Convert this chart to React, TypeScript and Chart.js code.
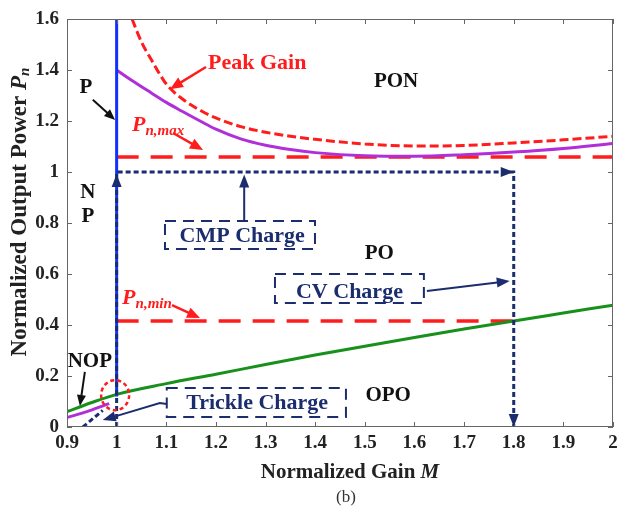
import React, { useEffect, useRef } from "react";
import { Chart, registerables } from "chart.js";
Chart.register(...registerables);

// ---- axes ----
const xTickValues = [0.9, 1.0, 1.1, 1.2, 1.3, 1.4, 1.5, 1.6, 1.7, 1.8, 1.9, 2.0];
const xTickLabels = ["0.9", "1", "1.1", "1.2", "1.3", "1.4", "1.5", "1.6", "1.7", "1.8", "1.9", "2"];
const yTickValues = [0, 0.2, 0.4, 0.6, 0.8, 1.0, 1.2, 1.4, 1.6];
const yTickLabels = ["0", "0.2", "0.4", "0.6", "0.8", "1", "1.2", "1.4", "1.6"];

// ---- series ----
const purpleGainM = [1.0, 1.03, 1.07, 1.1, 1.13, 1.17, 1.2, 1.25, 1.3, 1.35, 1.4, 1.5, 1.6, 1.7, 1.8, 1.9, 2.0];
const purplePower = [1.4, 1.36, 1.31, 1.273, 1.24, 1.198, 1.168, 1.13, 1.105, 1.088, 1.076, 1.064, 1.062, 1.068, 1.078, 1.092, 1.112];

const nopGainM = [0.9, 0.94, 0.975, 0.985];
const nopPower = [0.037, 0.06, 0.085, 0.092];

const peakGainM = [1.031, 1.05, 1.07, 1.1, 1.13, 1.17, 1.2, 1.25, 1.3, 1.35, 1.4, 1.5, 1.6, 1.7, 1.8, 1.9, 2.0];
const peakGainPower = [1.6, 1.51, 1.44, 1.345, 1.29, 1.24, 1.212, 1.178, 1.156, 1.14, 1.128, 1.11, 1.102, 1.104, 1.114, 1.126, 1.14];

const boundaryGainM = [0.9, 0.95, 1.0, 1.1, 1.2, 1.3, 1.4, 1.5, 1.6, 1.7, 1.8, 1.9, 2.0];
const boundaryPower = [0.06, 0.096, 0.128, 0.17, 0.207, 0.245, 0.282, 0.317, 0.351, 0.384, 0.416, 0.447, 0.478];

const pnMaxGainM = [1.0, 2.0];
const pnMaxPower = [1.059, 1.059];
const pnMinGainM = [1.0, 1.8];
const pnMinPower = [0.416, 0.416];

const blueGainM = [1.0, 1.0];
const bluePower = [0.12, 1.6];

const chargePathGainM = [1.0, 1.0, 1.8, 1.8];
const chargePathPower = [0, 1.0, 1.0, 0];

const trickleGainM = [0.932, 0.972];
const tricklePower = [0, 0.065];

const zip = (xs: number[], ys: number[]) => xs.map((x, i) => ({ x, y: ys[i] }));

const SERIF = '"Liberation Serif", "Times New Roman", serif';
const RED = "#ff1c1c";
const NAVY = "#1b2d6e";

type Part = { text: string; font: string; dy?: number };

function drawRich(ctx: CanvasRenderingContext2D, parts: Part[], x: number, y: number, align: "left" | "center" = "center") {
  let total = 0;
  for (const p of parts) {
    ctx.font = p.font;
    total += ctx.measureText(p.text).width;
  }
  let cx = align === "center" ? x - total / 2 : x;
  ctx.textAlign = "left";
  for (const p of parts) {
    ctx.font = p.font;
    ctx.fillText(p.text, cx, y + (p.dy || 0));
    cx += ctx.measureText(p.text).width;
  }
}

function head(ctx: CanvasRenderingContext2D, tx: number, ty: number, ang: number, len: number, w: number, color: string) {
  ctx.save();
  ctx.fillStyle = color;
  ctx.translate(tx, ty);
  ctx.rotate(ang);
  ctx.beginPath();
  ctx.moveTo(0, 0);
  ctx.lineTo(-len, -w / 2);
  ctx.lineTo(-len, w / 2);
  ctx.closePath();
  ctx.fill();
  ctx.restore();
}

function arrow(ctx: CanvasRenderingContext2D, pts: [number, number][], color: string, lw: number, len: number, w: number) {
  const n = pts.length;
  const [tx, ty] = pts[n - 1];
  const [px0, py0] = pts[n - 2];
  const ang = Math.atan2(ty - py0, tx - px0);
  ctx.save();
  ctx.strokeStyle = color;
  ctx.lineWidth = lw;
  ctx.setLineDash([]);
  ctx.beginPath();
  ctx.moveTo(pts[0][0], pts[0][1]);
  for (let i = 1; i < n - 1; i++) ctx.lineTo(pts[i][0], pts[i][1]);
  ctx.lineTo(tx - Math.cos(ang) * len * 0.8, ty - Math.sin(ang) * len * 0.8);
  ctx.stroke();
  ctx.restore();
  head(ctx, tx, ty, ang, len, w, color);
}

const decorPlugin = {
  id: "decor",
  afterDatasetsDraw(chart: any) {
    const ctx: CanvasRenderingContext2D = chart.ctx;
    const xs = chart.scales.x;
    const ys = chart.scales.y;
    const X = (m: number) => xs.getPixelForValue(m);
    const Y = (p: number) => ys.getPixelForValue(p);
    const { left, right, top, bottom } = chart.chartArea;
    ctx.save();
    ctx.textBaseline = "middle";

    // frame + ticks
    ctx.strokeStyle = "#666";
    ctx.lineWidth = 1;
    ctx.setLineDash([]);
    ctx.strokeRect(left + 0.5, top + 0.5, right - left - 1, bottom - top - 1);
    ctx.beginPath();
    for (const v of xTickValues) {
      const x = Math.round(X(v)) + 0.5;
      ctx.moveTo(x, bottom);
      ctx.lineTo(x, bottom - 5);
      ctx.moveTo(x, top);
      ctx.lineTo(x, top + 5);
    }
    for (const v of yTickValues) {
      const y = Math.round(Y(v)) + 0.5;
      ctx.moveTo(left, y);
      ctx.lineTo(left + 5, y);
      ctx.moveTo(right, y);
      ctx.lineTo(right - 5, y);
    }
    ctx.stroke();

    // tick labels
    ctx.fillStyle = "#222";
    ctx.font = `bold 19px ${SERIF}`;
    ctx.textAlign = "center";
    xTickValues.forEach((v, i) => ctx.fillText(xTickLabels[i], X(v), bottom + 16));
    ctx.textAlign = "right";
    yTickValues.forEach((v, i) => ctx.fillText(yTickLabels[i], left - 8, Y(v)));

    // axis titles
    drawRich(ctx, [
      { text: "Normalized Gain ", font: `bold 21px ${SERIF}` },
      { text: "M", font: `italic bold 21px ${SERIF}` },
    ], 350, 473);
    ctx.fillStyle = "#333";
    drawRich(ctx, [{ text: "(b)", font: `17px ${SERIF}` }], 346, 498);
    ctx.fillStyle = "#222";
    ctx.save();
    ctx.translate(20, 212);
    ctx.rotate(-Math.PI / 2);
    drawRich(ctx, [
      { text: "Normalized Output Power ", font: `bold 23px ${SERIF}` },
      { text: "P", font: `italic bold 23px ${SERIF}` },
      { text: "n", font: `italic bold 15px ${SERIF}`, dy: 5 },
    ], 0, 0);
    ctx.restore();

    // navy arrowheads on charge path
    head(ctx, X(1.0), Y(1.0) + 2, -Math.PI / 2, 13, 10, NAVY);
    head(ctx, X(1.8), Y(1.0), 0, 13, 10, NAVY);
    head(ctx, X(1.8), Y(0), Math.PI / 2, 13, 10, NAVY);

    // region labels
    ctx.fillStyle = "#111";
    const bold = `bold 21px ${SERIF}`;
    drawRich(ctx, [{ text: "PON", font: bold }], X(1.563), Y(1.353));
    drawRich(ctx, [{ text: "PO", font: bold }], X(1.529), Y(0.682));
    drawRich(ctx, [{ text: "OPO", font: bold }], X(1.547), Y(0.125));
    drawRich(ctx, [{ text: "NOP", font: bold }], X(0.946), Y(0.255));
    drawRich(ctx, [{ text: "P", font: bold }], X(0.938), Y(1.33));
    drawRich(ctx, [{ text: "N", font: bold }], X(0.942), Y(0.918));
    drawRich(ctx, [{ text: "P", font: bold }], X(0.942), Y(0.824));
    arrow(ctx, [[X(0.952), Y(1.283)], [X(0.997), Y(1.204)]], "#111", 2, 11, 9);
    arrow(ctx, [[X(0.936), Y(0.216)], [X(0.926), Y(0.082)]], "#111", 2, 11, 9);

    // red labels
    ctx.fillStyle = RED;
    drawRich(ctx, [{ text: "Peak Gain", font: `bold 22px ${SERIF}` }], X(1.184), Y(1.427), "left");
    arrow(ctx, [[X(1.18), Y(1.412)], [X(1.1075), Y(1.325)]], RED, 2.5, 13, 11);
    ctx.textBaseline = "alphabetic";
    drawRich(ctx, [
      { text: "P", font: `italic bold 22px ${SERIF}` },
      { text: "n,max", font: `italic bold 15px ${SERIF}`, dy: 4 },
    ], X(1.031), Y(1.161), "left");
    drawRich(ctx, [
      { text: "P", font: `italic bold 22px ${SERIF}` },
      { text: "n,min", font: `italic bold 15px ${SERIF}`, dy: 4 },
    ], X(1.011), Y(0.482), "left");
    ctx.textBaseline = "middle";
    arrow(ctx, [[X(1.1136), Y(1.153)], [X(1.174), Y(1.086)]], RED, 2.5, 13, 11);
    arrow(ctx, [[X(1.1115), Y(0.478)], [X(1.168), Y(0.427)]], RED, 2.5, 13, 11);

    // red dotted circle
    ctx.strokeStyle = RED;
    ctx.lineWidth = 2.5;
    ctx.setLineDash([4, 3]);
    ctx.beginPath();
    ctx.ellipse(X(0.997), Y(0.125), 14, 15, 0, 0, Math.PI * 2);
    ctx.stroke();

    // charge boxes
    const box = (m1: number, m2: number, p1: number, p2: number) => {
      ctx.strokeStyle = NAVY;
      ctx.lineWidth = 2;
      ctx.setLineDash([11, 7]);
      ctx.strokeRect(X(m1), Y(p1), X(m2) - X(m1), Y(p2) - Y(p1));
      ctx.setLineDash([]);
    };
    ctx.fillStyle = NAVY;
    const navyFont = `bold 22px ${SERIF}`;
    box(1.0974, 1.3996, 0.808, 0.698);
    drawRich(ctx, [{ text: "CMP Charge", font: navyFont }], X(1.253), Y(0.749));
    arrow(ctx, [[X(1.257), Y(0.808)], [X(1.257), Y(0.99)]], NAVY, 2, 13, 10);

    box(1.319, 1.619, 0.6, 0.486);
    drawRich(ctx, [{ text: "CV Charge", font: navyFont }], X(1.469), Y(0.529));
    arrow(ctx, [[X(1.625), Y(0.533)], [X(1.792), Y(0.573)]], NAVY, 2, 13, 10);

    box(1.101, 1.462, 0.153, 0.039);
    drawRich(ctx, [{ text: "Trickle Charge", font: navyFont }], X(1.283), Y(0.094));
    arrow(ctx, [[X(1.101), Y(0.09)], [X(1.087), Y(0.094)], [X(0.972), Y(0.027)]], NAVY, 2, 13, 10);

    ctx.restore();
  },
};

export default function App() {
  const ref = useRef<HTMLCanvasElement>(null);
  useEffect(() => {
    if (!ref.current) return;
    const line = (data: any, color: string, width: number, dash: number[] = []) => ({
      data,
      borderColor: color,
      backgroundColor: color,
      borderWidth: width,
      borderDash: dash,
      pointRadius: 0,
      showLine: true,
      fill: false,
      tension: 0.3,
      cubicInterpolationMode: "monotone" as const,
    });
    const chart = new Chart(ref.current, {
      type: "line",
      data: {
        datasets: [
          { ...line(zip(chargePathGainM, chargePathPower), NAVY, 3, [5, 3]), tension: 0, cubicInterpolationMode: "default" },
          { ...line(zip(trickleGainM, tricklePower), NAVY, 3, [5, 3]), tension: 0 },
          { ...line(zip(blueGainM, bluePower), "#1030ff", 3), tension: 0 },
          line(zip(boundaryGainM, boundaryPower), "#17901c", 3),
          line(zip(nopGainM, nopPower), "#b02fd8", 3),
          line(zip(purpleGainM, purplePower), "#b02fd8", 3),
          line(zip(peakGainM, peakGainPower), RED, 3, [9, 4]),
          { ...line(zip(pnMaxGainM, pnMaxPower), RED, 3.5, [22, 12]), tension: 0 },
          { ...line(zip(pnMinGainM, pnMinPower), RED, 3.5, [22, 12]), tension: 0 },
        ],
      },
      options: {
        responsive: false,
        maintainAspectRatio: false,
        devicePixelRatio: 1,
        animation: false,
        events: [],
        layout: { padding: { top: 19, right: 4, left: 0, bottom: 0 } },
        plugins: { legend: { display: false }, tooltip: { enabled: false }, title: { display: false } },
        scales: {
          x: {
            type: "linear",
            min: 0.9,
            max: 2.0,
            grid: { display: false },
            border: { display: false },
            ticks: { display: false },
            afterFit: (s: any) => { s.height = 81; },
          },
          y: {
            type: "linear",
            min: 0,
            max: 1.6,
            grid: { display: false },
            border: { display: false },
            ticks: { display: false },
            afterFit: (s: any) => { s.width = 67; },
          },
        },
      },
      plugins: [decorPlugin],
    });
    return () => chart.destroy();
  }, []);
  return (
    <div style={{ position: "fixed", left: 0, top: 0, width: 617, height: 508, background: "#fff" }}>
      <canvas ref={ref} width={617} height={508} style={{ width: 617, height: 508, display: "block" }} />
    </div>
  );
}
